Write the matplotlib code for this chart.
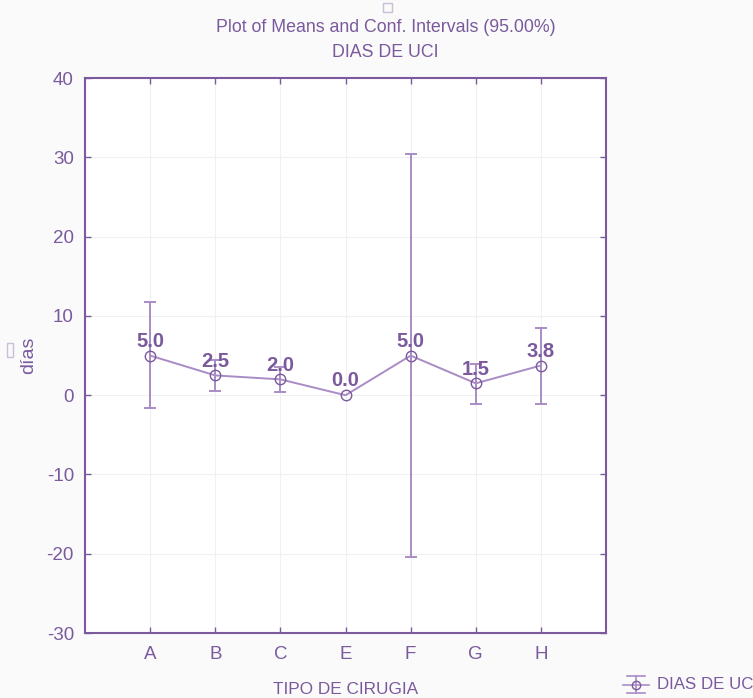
import matplotlib
matplotlib.use("Agg")
import matplotlib.pyplot as plt
import numpy as np

categories = ["A", "B", "C", "E", "F", "G", "H"]
means = [5.0, 2.5, 2.0, 0.0, 5.0, 1.5, 3.75]
upper = [11.7, 4.4, 3.6, 0.0, 30.4, 4.0, 8.5]
lower = [-1.6, 0.5, 0.4, 0.0, -20.4, -1.1, -1.1]
labels = ["5.0", "2.5", "2.0", "0.0", "5.0", "1.5", "3.8"]

plt.rcParams['font.family'] = ['Liberation Sans', 'DejaVu Sans']
plt.rcParams['axes.unicode_minus'] = False
purple = "#7a5a9c"
lpurple = "#a98cc5"

fig = plt.figure(figsize=(7.53, 6.98), dpi=100)
fig.patch.set_facecolor("#fafafb")
ax = fig.add_axes([0.1129, 0.0931, 0.6919, 0.7949])
ax.set_facecolor("white")

x = np.arange(1, len(categories) + 1)
m = np.array(means)
yerr = np.array([m - np.array(lower), np.array(upper) - m])
has = (yerr.sum(axis=0) > 0)
ax.errorbar(x[has], m[has], yerr=yerr[:, has], fmt="none", ecolor=lpurple,
            elinewidth=1.4, capsize=4, capthick=1.4, zorder=3)
ax.plot(x, m, color=lpurple, lw=1.4, marker="o", ms=7.5, mfc="none",
        mec=purple, mew=1.0, zorder=4)
for xi, yi, t in zip(x, m, labels):
    ax.text(xi, yi + 0.6, t, ha="center", va="bottom", color=purple,
            fontsize=14.5, fontweight="bold", zorder=5)

ax.set_xlim(0, 8)
ax.set_ylim(-30, 40)
ax.set_xticks(x)
ax.set_xticklabels(categories)
ax.set_yticks(np.arange(-30, 41, 10))
ax.grid(True, color="#f0eff2", lw=0.8)
ax.set_axisbelow(True)
ax.tick_params(direction="in", colors=purple, labelcolor=purple, labelsize=13.5,
               top=True, right=True, length=4, width=1)
ax.tick_params(axis="x", pad=9)
ax.tick_params(axis="y", pad=8)
for s in ax.spines.values():
    s.set_color(purple)
    s.set_linewidth(1.5)

fig.text(0.512, 0.961, "Plot of Means and Conf. Intervals (95.00%)", ha="center",
         va="center", color=purple, fontsize=12.8)
fig.text(0.512, 0.925, "DIAS DE UCI", ha="center", va="center", color=purple,
         fontsize=12.8)
ax.set_xlabel("TIPO DE CIRUGIA", color=purple, fontsize=12.4)
ax.xaxis.set_label_coords(0.5, -0.088)
ax.set_ylabel("días", color=purple, fontsize=14)
ax.yaxis.set_label_coords(-0.092, 0.5)

# legend
lx0, lx1, ly = 0.827, 0.862, 0.019
tf = fig.transFigure
fig.add_artist(plt.Line2D([lx0, lx1], [ly, ly], color=lpurple, lw=1.2, transform=tf))
fig.add_artist(plt.Line2D([0.8445, 0.8445], [ly - 0.012, ly + 0.012], color=lpurple, lw=1.2, transform=tf))
fig.add_artist(plt.Line2D([lx0 + 0.006, lx1 - 0.006], [ly - 0.012, ly - 0.012], color=lpurple, lw=1.2, transform=tf))
fig.add_artist(plt.Line2D([lx0 + 0.006, lx1 - 0.006], [ly + 0.012, ly + 0.012], color=lpurple, lw=1.2, transform=tf))
fig.add_artist(plt.Line2D([0.8445], [ly], marker="o", ms=6, mfc="none", mec=purple, mew=1.0, transform=tf))
fig.text(0.872, ly, "DIAS DE UC", ha="left", va="center", color=purple, fontsize=12.2)

# small UI artifacts
fig.add_artist(plt.Rectangle((0.5085, 0.983), 0.012, 0.012, fill=False, ec="#c9bfd6", lw=1, transform=tf))
fig.add_artist(plt.Rectangle((0.009, 0.488), 0.008, 0.02, fill=False, ec="#c9bfd6", lw=1, transform=tf))

fig.savefig("out.png", dpi=100, facecolor=fig.get_facecolor())
